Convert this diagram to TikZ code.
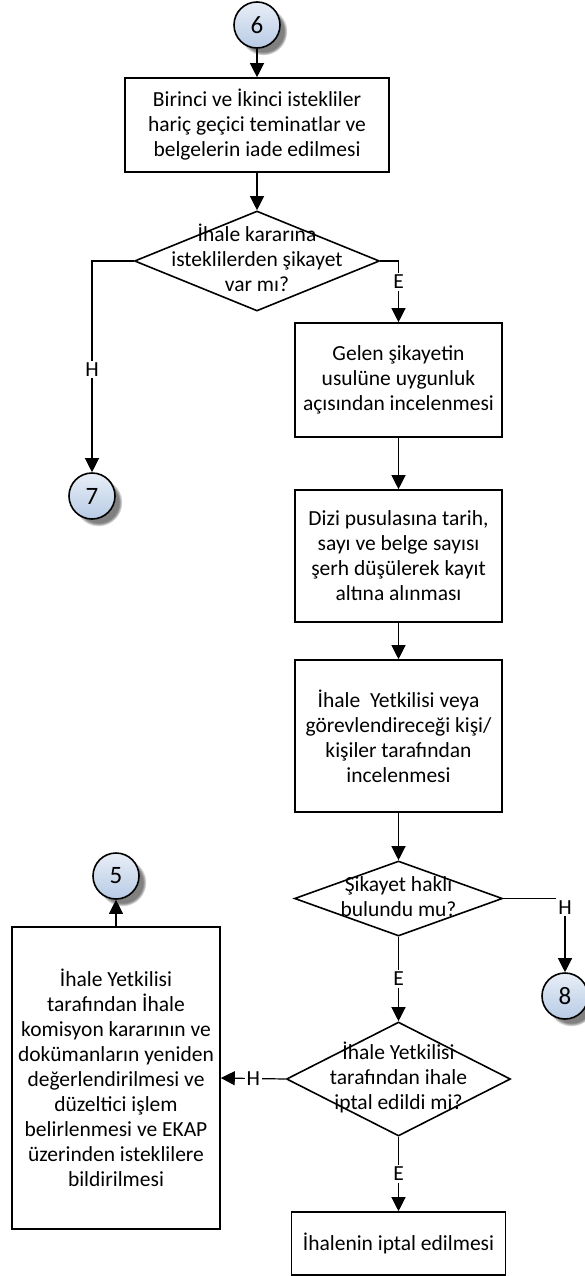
\documentclass[tikz,border=0pt]{standalone}
\usepackage{fontspec}
\setmainfont{Carlito}
\usetikzlibrary{shapes.geometric,arrows.meta,shadows}

% zero-size multi-line text, centred on the node centre
\newcommand\dtxt[1]{\makebox[0pt]{\raisebox{-0.25em}[0pt][0pt]{\begin{tabular}{@{}c@{}}#1\end{tabular}}}}

\definecolor{circtop}{RGB}{232,238,247}
\definecolor{circbot}{RGB}{184,203,229}

\tikzset{
  txt/.style={font=\fontsize{21.5}{25}\selectfont},
  stepbox/.style={txt, draw, rectangle, line width=1.6pt, align=center, inner sep=0pt},
  decision/.style={txt, draw, diamond, line width=1.6pt, inner sep=0pt},
  conncirc/.style={font=\fontsize{25}{28}\selectfont, circle, draw, line width=1.6pt,
    minimum size=46pt, inner sep=0pt,
    top color=circtop, bottom color=circbot,
    circular drop shadow={shadow xshift=6pt, shadow yshift=-6pt, shadow scale=1.05}},
  flow/.style={line width=1.2pt, -{Triangle[width=14pt,length=14pt]}},
  lbl/.style={txt, fill=white, inner sep=2pt},
}

\begin{document}
\begin{tikzpicture}[x=1pt,y=-1pt]
\useasboundingbox (0,0) rectangle (584,1276);

% connectors (off-page references)
\node[conncirc] (c6) at (257,25) {6};
\node[conncirc] (c7) at (92,496) {7};
\node[conncirc] (c8) at (565,996) {8};
\node[conncirc] (c5) at (116,876) {5};

% process steps
\node[stepbox, minimum width=264pt, minimum height=94pt] (b1) at (257,125)
  {Birinci ve İkinci istekliler\\hariç geçici teminatlar ve\\belgelerin iade edilmesi};
\node[stepbox, minimum width=207pt, minimum height=114pt] (b2) at (398.5,380)
  {Gelen şikayetin\\usulüne uygunluk\\açısından incelenmesi};
\node[stepbox, minimum width=207pt, minimum height=132pt] (b3) at (398.5,556)
  {Dizi pusulasına tarih,\\sayı ve belge sayısı\\şerh düşülerek kayıt\\altına alınması};
\node[stepbox, minimum width=207pt, minimum height=152pt] (b4) at (398.5,736)
  {İhale\ \ Yetkilisi veya\\görevlendireceği kişi/\\kişiler tarafından\\incelenmesi};
\node[stepbox, minimum width=208pt, minimum height=302pt] (b5) at (116,1078)
  {İhale Yetkilisi\\tarafından İhale\\komisyon kararının ve\\dokümanların yeniden\\değerlendirilmesi ve\\düzeltici işlem\\belirlenmesi ve EKAP\\üzerinden isteklilere\\bildirilmesi};
\node[stepbox, minimum width=214pt, minimum height=63pt] (b6) at (398.5,1243.5)
  {İhalenin iptal edilmesi};

% decisions
\node[decision, minimum width=245pt, minimum height=100pt] (d1) at (257,261)
  {\dtxt{İhale kararına\\isteklilerden şikayet\\var mı?}};
\node[decision, minimum width=208pt, minimum height=75pt] (d2) at (398.5,898.5)
  {\dtxt{Şikayet haklı\\bulundu mu?}};
\node[decision, minimum width=224pt, minimum height=114pt] (d3) at (398.5,1079)
  {\dtxt{İhale Yetkilisi\\tarafından ihale\\iptal edildi mi?}};

% flow
\draw[flow] (c6) -- (b1);
\draw[flow] (b1) -- (d1);
\draw[flow] (d1.west) -| (c7.north) node[lbl, pos=0.757] {H};
\draw[flow] (d1.east) -| (b2.north) node[lbl, pos=0.67] {E};
\draw[flow] (b2) -- (b3);
\draw[flow] (b3) -- (b4);
\draw[flow] (b4) -- (d2);
\draw[flow] (d2.east) -| (c8.north) node[lbl, pos=0.56] {H};
\draw[flow] (d2.south) -- (d3.north) node[lbl, midway] {E};
\draw[flow] (d3.west) -- (b5.east) node[lbl, midway] {H};
\draw[flow] (d3.south) -- (b6.north) node[lbl, midway] {E};
\draw[flow] (b5.north) -- (c5.south);
\end{tikzpicture}
\end{document}
